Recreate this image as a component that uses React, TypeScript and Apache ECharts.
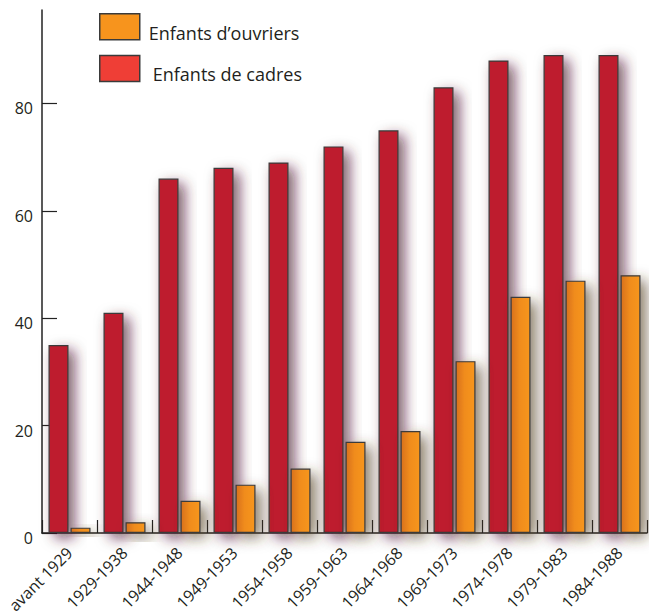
import React, { useEffect, useRef } from "react";
import * as echarts from "echarts";

const categories = [
  "avant 1929", "1929-1938", "1944-1948", "1949-1953", "1954-1958",
  "1959-1963", "1964-1968", "1969-1973", "1974-1978", "1979-1983", "1984-1988",
];
const cadres = [35, 41, 66, 68, 69, 72, 75, 83, 88, 89, 89];
const ouvriers = [1, 2, 6, 9, 12, 17, 19, 32, 44, 47, 48];
const yTicks = [0, 20, 40, 60, 80];
const seriesNames = ["Enfants d\u2019ouvriers", "Enfants de cadres"];

const FONT = "'Open Sans', 'Noto Sans', sans-serif";
const TEXT = "#231f20";

export default function App() {
  const ref = useRef<HTMLDivElement>(null);
  useEffect(() => {
    if (!ref.current) return;
    const chart = echarts.init(ref.current, undefined, { renderer: "svg" });
    const orangeGrad = new echarts.graphic.LinearGradient(0, 0, 1, 0, [
      { offset: 0, color: "#d8701f" },
      { offset: 0.45, color: "#f08c1f" },
      { offset: 1, color: "#f7961d" },
    ]);
    chart.setOption({
      animation: false,
      backgroundColor: "#ffffff",
      textStyle: { fontFamily: FONT },
      legend: {
        orient: "vertical",
        left: 99,
        top: 13,
        padding: 0,
        itemWidth: 40,
        itemHeight: 26,
        itemGap: 13,
        icon: "rect",
        selectedMode: false,
        formatter: (name: string) =>
          name === seriesNames[1] ? "{b|" + name + "}" : "{a|" + name + "}",
        textStyle: {
          fontSize: 18,
          color: TEXT,
          fontFamily: FONT,
          rich: {
            a: { fontSize: 18, color: TEXT, fontFamily: FONT, padding: [12, 0, 0, 4] },
            b: { fontSize: 18, color: TEXT, fontFamily: FONT, padding: [10, 0, 0, 8] },
          },
        },
        data: [
          {
            name: seriesNames[0],
            itemStyle: { color: "#f7941d", borderColor: "#3a3a3a", borderWidth: 1.5, shadowBlur: 0, shadowColor: "transparent" },
          },
          {
            name: seriesNames[1],
            itemStyle: { color: "#ef3e36", borderColor: "#3a3a3a", borderWidth: 1.5, shadowBlur: 0, shadowColor: "transparent" },
          },
        ],
      },
      grid: { left: 42, right: 2, top: 10, bottom: 82, containLabel: false, outerBoundsMode: "none" },
      xAxis: {
        type: "category",
        data: categories,
        axisLine: { show: true, lineStyle: { color: "#222", width: 1.5 } },
        axisTick: { show: true, inside: true, length: 13, lineStyle: { color: "#222", width: 1.2 } },
        axisLabel: { rotate: 45, fontSize: 16, color: TEXT, margin: 17, fontFamily: FONT },
      },
      yAxis: {
        type: "value",
        min: 0,
        max: 97.4,
        axisLine: { show: true, lineStyle: { color: "#222", width: 1.5 } },
        axisTick: { show: true, inside: true, length: 15, lineStyle: { color: "#222", width: 1.2 }, customValues: yTicks },
        axisLabel: {
          fontSize: 16,
          color: TEXT,
          margin: 9,
          fontFamily: FONT,
          customValues: yTicks,
          formatter: "{v|{value}}",
          rich: { v: { fontSize: 16, color: TEXT, fontFamily: FONT, padding: [10, 0, 0, 0] } },
        },
        splitLine: { show: false },
      },
      series: [
        {
          name: seriesNames[1],
          type: "bar",
          data: cadres,
          barWidth: 20,
          barGap: "10%",
          itemStyle: {
            color: "#be1e2d",
            borderColor: "#3a3a3a",
            borderWidth: 1.2,
            shadowBlur: 14,
            shadowOffsetX: 6,
            shadowOffsetY: 5,
            shadowColor: "rgba(70,20,40,0.7)",
          },
        },
        {
          name: seriesNames[0],
          type: "bar",
          data: ouvriers,
          barWidth: 20,
          barGap: "10%",
          itemStyle: {
            color: orangeGrad,
            borderColor: "#3a3a3a",
            borderWidth: 1.2,
            shadowBlur: 14,
            shadowOffsetX: 6,
            shadowOffsetY: 5,
            shadowColor: "rgba(80,55,30,0.65)",
          },
        },
      ],
    });
    return () => chart.dispose();
  }, []);
  return (
    <div
      ref={ref}
      style={{ position: "fixed", left: 0, top: 0, width: 649, height: 615 }}
    />
  );
}
